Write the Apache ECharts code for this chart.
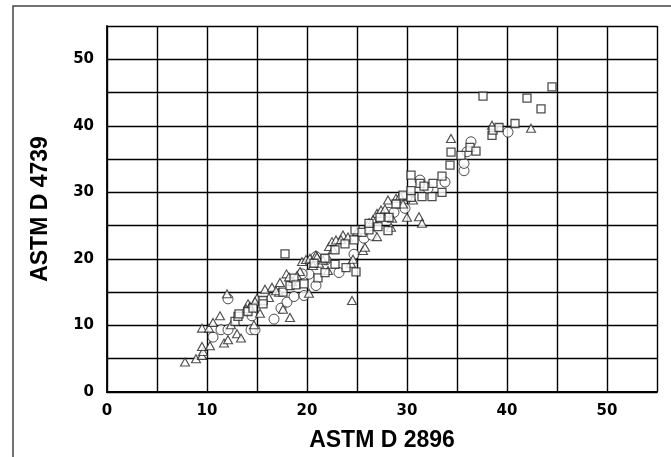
<!DOCTYPE html>
<html>
<head>
<meta charset="utf-8">
<script src="https://cdn.jsdelivr.net/npm/echarts@6/dist/echarts.min.js"></script>
<style>
html, body { margin: 0; padding: 0; background: #fff; }
#chart { width: 671px; height: 457px; }
</style>
</head>
<body>
<div id="chart"></div>
<script>
// [ASTM D 2896, ASTM D 4739]
var triangles = [
    [7.8, 4.5], [8.9, 5.0], [9.5, 5.5], [9.6, 6.1], [9.5, 6.85], [10.3, 6.95], [9.5, 9.6], [10.2, 9.6],
    [10.6, 10.45], [11.3, 11.45], [11.7, 7.35], [12.1, 7.85], [12.0, 14.75], [12.4, 10.1], [13.0, 8.75],
    [13.4, 8.1], [14.1, 13.25], [14.3, 12.85], [14.7, 10.1], [15.0, 14.1], [15.3, 11.85], [15.8, 15.45],
    [16.2, 14.2], [16.5, 15.75], [17.2, 15.0], [17.3, 16.45], [17.6, 12.45], [17.95, 17.75], [18.3, 11.2],
    [18.5, 16.6], [19.3, 18.1], [19.5, 19.6], [19.9, 19.9], [20.2, 14.85], [20.3, 20.1], [20.9, 20.6],
    [21.2, 19.35], [21.6, 19.85], [22.1, 18.25], [22.2, 21.85], [22.5, 22.6], [22.9, 22.85], [23.6, 23.6],
    [24.4, 19.35], [24.6, 19.95], [24.5, 13.75], [25.6, 21.25], [25.8, 21.75], [26.2, 25.45], [27.0, 23.35],
    [27.0, 26.85], [27.4, 27.35], [28.1, 28.85], [28.4, 24.75], [28.5, 26.1], [28.9, 29.1], [29.6, 28.25],
    [30.0, 26.25], [30.2, 29.35], [31.2, 26.35], [31.5, 25.35], [34.4, 38.1], [38.5, 40.1], [42.4, 39.65],
    [30.6, 28.85], [16.9, 15.2], [18.2, 17.3], [19.0, 17.5], [21.0, 20.3], [23.4, 22.9], [24.1, 23.3],
    [26.6, 25.9], [27.8, 27.5], [29.3, 29.4], [14.8, 13.6], [13.9, 12.5], [20.6, 19.0], [25.0, 24.1],
    [22.6, 21.4]
];
var squares = [
    [12.8, 10.6], [13.1, 11.35], [13.2, 11.75], [14.1, 12.1], [14.6, 12.6], [15.6, 13.75], [15.6, 13.25],
    [17.6, 15.0], [17.8, 20.75], [18.3, 16.0], [18.7, 17.1], [18.9, 16.1], [19.7, 16.25], [20.7, 19.35],
    [21.1, 17.15], [21.8, 20.1], [21.8, 17.95], [22.8, 21.35], [22.8, 19.2], [23.8, 22.25], [23.9, 18.7],
    [24.8, 24.35], [24.7, 22.85], [24.9, 18.05], [25.5, 24.0], [26.2, 24.35], [26.2, 25.35], [27.1, 24.85],
    [27.3, 26.25], [28.1, 24.25], [28.2, 26.25], [28.9, 28.25], [29.6, 29.6], [30.4, 32.6], [30.4, 29.25],
    [30.4, 30.25], [31.3, 31.35], [31.5, 29.35], [31.7, 30.95], [32.5, 29.35], [32.6, 31.35], [33.5, 30.0],
    [33.5, 32.45], [34.3, 34.1], [34.4, 36.05], [35.4, 35.55], [36.3, 36.75], [36.9, 36.2], [37.6, 44.45],
    [38.5, 38.55], [38.6, 39.35], [39.2, 39.75], [40.8, 40.35], [42.0, 44.15], [43.4, 42.55], [44.5, 45.85]
];
var circles = [
    [10.6, 8.25], [11.4, 9.35], [12.1, 9.35], [12.1, 14.0], [14.4, 9.35], [14.5, 11.45], [14.8, 9.35],
    [16.7, 10.95], [17.4, 12.6], [18.0, 13.5], [18.7, 14.35], [19.7, 14.5], [20.2, 17.7], [20.9, 16.0],
    [21.9, 19.85], [23.2, 17.95], [24.7, 20.7], [25.7, 23.1], [26.5, 23.55], [28.2, 27.0], [28.7, 27.0],
    [29.8, 27.6], [31.3, 31.85], [32.1, 30.6], [33.8, 31.55], [35.7, 33.25], [35.7, 34.35], [36.0, 36.1],
    [36.4, 37.6], [40.1, 39.05], [20.9, 20.35], [19.5, 17.75]
];
var axisMin = 0;
var axisMax = 55;
var gridStep = 5;

var chart = echarts.init(document.getElementById('chart'));

function tickLabel(v) {
    return v % 10 === 0 ? String(v) : '';
}

function makeAxis(name, isX) {
    return {
        type: 'value',
        min: axisMin,
        max: axisMax,
        interval: gridStep,
        name: name,
        nameLocation: 'middle',
        nameGap: isX ? 37 : 55,
        nameTextStyle: {
            fontFamily: 'Liberation Sans',
            fontWeight: 'bold',
            fontSize: 23,
            color: '#000'
        },
        axisLine: { show: true, onZero: false, lineStyle: { color: '#000', width: isX ? 2.2 : 1.8 } },
        axisTick: { show: false },
        axisLabel: {
            formatter: tickLabel,
            margin: isX ? 12 : 13,
            fontFamily: 'DejaVu Sans',
            fontWeight: 'bold',
            fontSize: 15,
            color: '#000'
        },
        splitLine: { show: true, lineStyle: { color: '#000', width: 1.4 } }
    };
}

function scatter(data, symbol, size, border) {
    return {
        type: 'scatter',
        data: data,
        symbol: symbol,
        symbolSize: size,
        itemStyle: { color: '#fff', borderColor: '#222', borderWidth: border },
        emphasis: { disabled: true },
        animation: false
    };
}

chart.setOption({
    animation: false,
    grid: { left: 107, right: 14, top: 26, bottom: 65 },
    graphic: [{
        type: 'rect',
        shape: { x: 13, y: 6, width: 700, height: 500 },
        style: { fill: null, stroke: '#444', lineWidth: 1.5 },
        z: -1
    }],
    xAxis: makeAxis('ASTM D 2896', true),
    yAxis: makeAxis('ASTM D 4739', false),
    series: [
        scatter(circles, 'circle', 10, 1),
        scatter(triangles, 'triangle', [9, 8], 1.1),
        scatter(squares, 'rect', 8, 1.3)
    ]
});
</script>
</body>
</html>
